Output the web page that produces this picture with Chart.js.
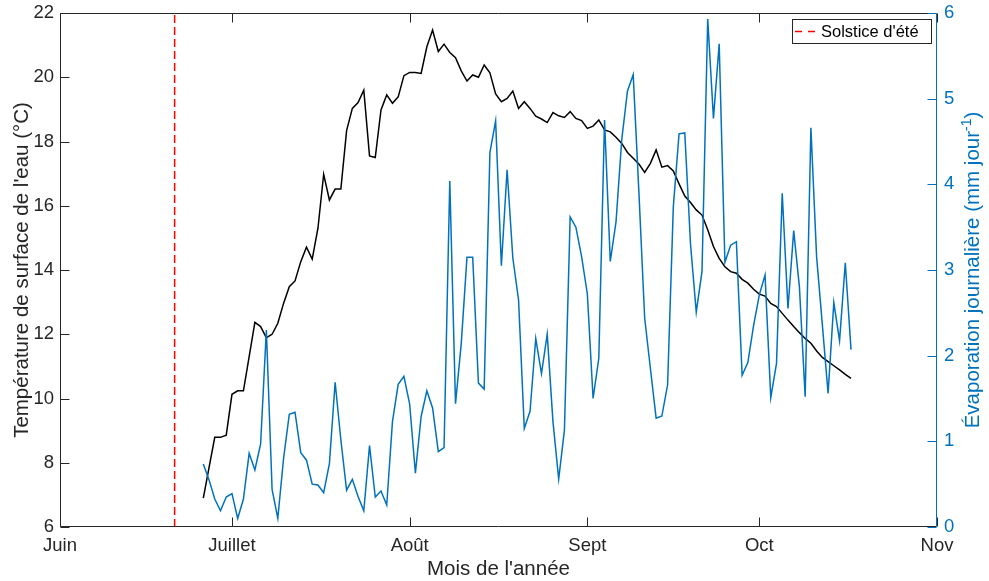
<!DOCTYPE html>
<html>
<head>
<meta charset="utf-8">
<title>Température et évaporation</title>
<script src="https://cdn.jsdelivr.net/npm/chart.js@4/dist/chart.umd.min.js"></script>
<style>
  html, body { margin: 0; padding: 0; background: #ffffff; }
  canvas { display: block; }
</style>
</head>
<body>
<canvas id="chart" width="989" height="581"></canvas>
<script>
// Month boundaries, in days counted from 1 June
const monthTicks = [0, 30, 61, 92, 122, 153];
const monthLabels = ['Juin', 'Juillet', 'Août', 'Sept', 'Oct', 'Nov'];

// Day of the summer solstice (21 June)
const solsticeDay = 20;

// Daily series start on 26 June
const firstDay = 25;

// Water surface temperature (°C), one value per day
const waterTemp = [
  6.90, 7.85, 8.79, 8.79, 8.86, 10.13, 10.24, 10.24, 11.30, 12.37,
  12.24, 11.89, 12.00, 12.34, 12.96, 13.48, 13.66, 14.26, 14.71, 14.34,
  15.30, 16.98, 16.18, 16.52, 16.52, 18.34, 19.03, 19.21, 19.60, 17.55,
  17.50, 18.98, 19.45, 19.19, 19.39, 20.05, 20.15, 20.15, 20.12, 20.95,
  21.47, 20.80, 21.03, 20.77, 20.61, 20.20, 19.88, 20.07, 20.00, 20.38,
  20.14, 19.48, 19.24, 19.34, 19.57, 19.03, 19.24, 19.03, 18.79, 18.70,
  18.59, 18.90, 18.80, 18.75, 18.93, 18.72, 18.65, 18.41, 18.48, 18.67,
  18.36, 18.30, 18.13, 17.94, 17.66, 17.48, 17.30, 17.04, 17.32, 17.74,
  17.20, 17.25, 17.08, 16.68, 16.30, 16.10, 15.87, 15.71, 15.25, 14.73,
  14.36, 14.10, 13.95, 13.90, 13.71, 13.59, 13.40, 13.25, 13.19, 12.96,
  12.86, 12.65, 12.44, 12.24, 12.05, 11.87, 11.72, 11.48, 11.28, 11.15,
  11.02, 10.89, 10.75, 10.63
];

// Daily evaporation (mm per day)
const evaporation = [
  0.735, 0.55, 0.327, 0.19, 0.35, 0.39, 0.10, 0.327, 0.86, 0.665,
  0.97, 2.30, 0.44, 0.10, 0.80, 1.315, 1.34, 0.867, 0.78, 0.50,
  0.49, 0.40, 0.74, 1.69, 1.015, 0.43, 0.557, 0.355, 0.19, 0.95,
  0.35, 0.42, 0.257, 1.23, 1.665, 1.76, 1.436, 0.627, 1.29, 1.59,
  1.39, 0.88, 0.926, 4.04, 1.44, 2.14, 3.15, 3.15, 1.68, 1.61,
  4.37, 4.74, 3.05, 4.17, 3.14, 2.65, 1.15, 1.35, 2.20, 1.79,
  2.25, 1.23, 0.56, 1.13, 3.62, 3.50, 3.155, 2.72, 1.50, 1.97,
  4.75, 3.10, 3.56, 4.52, 5.09, 5.28, 3.90, 2.44, 1.85, 1.27,
  1.295, 1.66, 3.74, 4.59, 4.60, 3.30, 2.51, 2.98, 5.93, 4.77,
  5.64, 3.09, 3.29, 3.33, 1.77, 1.92, 2.35, 2.71, 2.94, 1.51,
  1.91, 3.895, 2.55, 3.46, 2.80, 1.52, 4.66, 3.15, 2.36, 1.56,
  2.62, 2.175, 3.085, 2.07
];

const INK = '#262626';
const BLUE = '#0072BD';
const RED = '#FF0000';
const FONT = '"Liberation Sans", Arial, Helvetica, sans-serif';
const TICK_LEN = 9;

const toPoints = (values) => values.map((v, i) => ({ x: firstDay + i, y: v }));

// Keep the plot frame at fixed size: no extra room reserved for end labels
function fixSize(prop, size) {
  return function (axis) {
    axis[prop] = size;
    axis.paddingTop = 0;
    axis.paddingBottom = 0;
    axis.paddingLeft = 0;
    axis.paddingRight = 0;
  };
}

// Axis lines, inward tick marks, legend box and rotated titles
const framePlugin = {
  id: 'frame',
  afterDatasetsDraw(chart) {
    const { ctx, chartArea: a, scales } = chart;
    const xs = scales.x, yl = scales.y, yr = scales.y1;
    const L = Math.round(a.left) + 0.5, R = Math.round(a.right) - 0.5;
    const T = Math.round(a.top) + 0.5, B = Math.round(a.bottom) - 0.5;
    ctx.save();
    ctx.lineWidth = 1;

    // box: left, bottom, top in dark grey
    ctx.strokeStyle = INK;
    ctx.beginPath();
    ctx.moveTo(L, T); ctx.lineTo(L, B); ctx.lineTo(R, B);
    ctx.moveTo(L, T); ctx.lineTo(R, T);
    xs.ticks.forEach(t => {
      const px = Math.round(xs.getPixelForValue(t.value)) + 0.5;
      ctx.moveTo(px, B); ctx.lineTo(px, B - TICK_LEN);
      ctx.moveTo(px, T); ctx.lineTo(px, T + TICK_LEN);
    });
    yl.ticks.forEach(t => {
      const py = Math.round(yl.getPixelForValue(t.value)) + 0.5;
      ctx.moveTo(L, py); ctx.lineTo(L + TICK_LEN, py);
    });
    ctx.stroke();

    // right axis in blue
    ctx.strokeStyle = BLUE;
    ctx.beginPath();
    ctx.moveTo(R, T); ctx.lineTo(R, B);
    yr.ticks.forEach(t => {
      const py = Math.round(yr.getPixelForValue(t.value)) + 0.5;
      ctx.moveTo(R, py); ctx.lineTo(R - TICK_LEN, py);
    });
    ctx.stroke();
    ctx.restore();
  },
  afterDraw(chart) {
    const { ctx, chartArea: a } = chart;
    const midY = (a.top + a.bottom) / 2;
    ctx.save();
    ctx.textBaseline = 'alphabetic';

    // x title
    ctx.fillStyle = INK;
    ctx.font = `20.5px ${FONT}`;
    ctx.textAlign = 'center';
    ctx.fillText("Mois de l'année", (a.left + a.right) / 2, 575);

    // left title
    ctx.save();
    ctx.translate(27.5, midY);
    ctx.rotate(-Math.PI / 2);
    ctx.fillText('Température de surface de l\'eau (°C)', 0, 0);
    ctx.restore();

    // right title with superscript
    ctx.save();
    ctx.fillStyle = BLUE;
    ctx.translate(979, midY);
    ctx.rotate(-Math.PI / 2);
    ctx.textAlign = 'left';
    const main = 'Évaporation journalière (mm jour';
    const sup = '-1';
    const close = ')';
    ctx.font = `20.5px ${FONT}`;
    const w1 = ctx.measureText(main).width;
    const w3 = ctx.measureText(close).width;
    ctx.font = `14px ${FONT}`;
    const w2 = ctx.measureText(sup).width;
    const x0 = -(w1 + w2 + w3) / 2;
    ctx.font = `20.5px ${FONT}`;
    ctx.fillText(main, x0, 0);
    ctx.font = `14px ${FONT}`;
    ctx.fillText(sup, x0 + w1, -8);
    ctx.font = `20.5px ${FONT}`;
    ctx.fillText(close, x0 + w1 + w2, 0);
    ctx.restore();

    // legend
    ctx.fillStyle = '#ffffff';
    ctx.fillRect(792, 19, 139, 24);
    ctx.strokeStyle = INK;
    ctx.lineWidth = 1;
    ctx.strokeRect(792.5, 19.5, 139, 24);
    ctx.strokeStyle = RED;
    ctx.lineWidth = 1.5;
    ctx.beginPath();
    ctx.moveTo(795, 31.5); ctx.lineTo(802, 31.5);
    ctx.moveTo(808, 31.5); ctx.lineTo(815, 31.5);
    ctx.stroke();
    ctx.fillStyle = '#000000';
    ctx.font = `16.5px ${FONT}`;
    ctx.textAlign = 'left';
    ctx.fillText("Solstice d'été", 821, 37);
    ctx.restore();
  }
};

new Chart(document.getElementById('chart'), {
  type: 'line',
  data: {
    datasets: [
      {
        label: 'Évaporation journalière',
        data: toPoints(evaporation),
        yAxisID: 'y1',
        borderColor: BLUE,
        borderWidth: 1.5,
        pointRadius: 0,
        tension: 0,
        fill: false
      },
      {
        label: "Température de surface de l'eau",
        data: toPoints(waterTemp),
        yAxisID: 'y',
        borderColor: '#000000',
        borderWidth: 1.5,
        pointRadius: 0,
        tension: 0,
        fill: false
      },
      {
        label: "Solstice d'été",
        data: [{ x: solsticeDay, y: 6 }, { x: solsticeDay, y: 22 }],
        yAxisID: 'y',
        borderColor: RED,
        borderDash: [8, 4],
        borderWidth: 1.5,
        pointRadius: 0,
        fill: false
      }
    ]
  },
  options: {
    responsive: false,
    animation: false,
    devicePixelRatio: 1,
    layout: { padding: { top: 13, left: 0, right: 0, bottom: 0 } },
    plugins: {
      legend: { display: false },
      tooltip: { enabled: false }
    },
    scales: {
      x: {
        type: 'linear',
        min: 0,
        max: 153,
        afterBuildTicks(axis) { axis.ticks = monthTicks.map(v => ({ value: v })); },
        afterFit: fixSize('height', 54),
        grid: { display: false, drawTicks: false },
        border: { display: false },
        ticks: {
          autoSkip: false,
          maxRotation: 0,
          padding: 8,
          color: INK,
          font: { family: FONT, size: 18.5 },
          callback: (v, i) => monthLabels[i]
        }
      },
      y: {
        position: 'left',
        min: 6,
        max: 22,
        afterFit: fixSize('width', 60),
        grid: { display: false, drawTicks: false },
        border: { display: false },
        ticks: {
          stepSize: 2,
          padding: 6,
          color: INK,
          font: { family: FONT, size: 18.5 }
        }
      },
      y1: {
        position: 'right',
        min: 0,
        max: 6,
        afterFit: fixSize('width', 52),
        grid: { display: false, drawTicks: false },
        border: { display: false },
        ticks: {
          stepSize: 1,
          padding: 7,
          color: BLUE,
          font: { family: FONT, size: 18.5 }
        }
      }
    }
  },
  plugins: [framePlugin]
});
</script>
</body>
</html>
